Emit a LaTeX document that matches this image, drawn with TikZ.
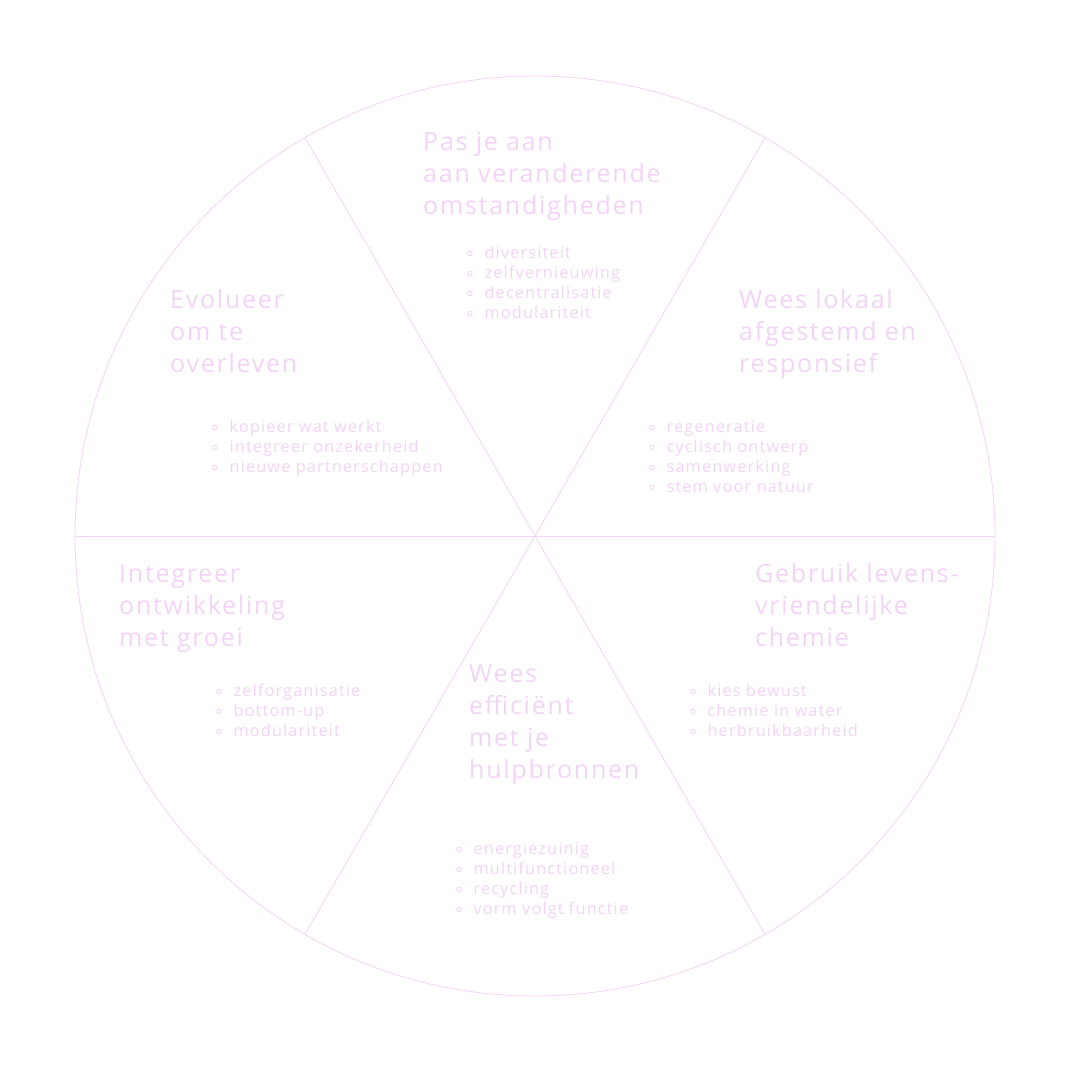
\documentclass[tikz,border=0pt]{standalone}
\usepackage{fontspec}
\setmainfont{Open Sans}[LetterSpace=7]
\definecolor{pk}{HTML}{F3D3F7}
\newcommand{\bl}{\tikz[baseline=0pt]\draw[pk,line width=0.8pt] (0,4.5pt) circle (2.3pt);\hspace{12pt}}
\begin{document}
\begin{tikzpicture}[x=1pt,y=-1pt,
  ttl/.style={anchor=base west,inner sep=0,align=left,text=pk,font=\fontsize{25}{32}\selectfont},
  lst/.style={anchor=base west,inner sep=0,align=left,text=pk,font=\fontsize{16.3}{20}\selectfont},
  ln/.style={draw=pk,line width=0.8pt}]
\useasboundingbox (0,0) rectangle (1070,1081);
\coordinate (c) at (535,536);
\draw[ln] (c) circle (460);
\foreach \a in {0,60,...,300}{\draw[ln] (c) -- ++(\a:460);}
\node[ttl] (t1) at (423,214) {Pas je aan\\aan veranderende\\omstandigheden};
\node[lst] (l1) at (467,318) {\bl diversiteit\\\bl zelfvernieuwing\\\bl decentralisatie\\\bl modulariteit};
\node[ttl] (t2) at (170,372) {Evolueer\\om te\\overleven};
\node[lst] (l2) at (212,472) {\bl kopieer wat werkt\\\bl integreer onzekerheid\\\bl nieuwe partnerschappen};
\node[ttl] (t3) at (739,372) {Wees lokaal\\afgestemd en\\responsief};
\node[lst] (l3) at (649,492) {\bl regeneratie\\\bl cyclisch ontwerp\\\bl samenwerking\\\bl stem voor natuur};
\node[ttl] (t4) at (119,646) {Integreer\\ontwikkeling\\met groei};
\node[lst] (l4) at (216,736) {\bl zelforganisatie\\\bl bottom-up\\\bl modulariteit};
\node[ttl] (t5) at (755,646) {Gebruik levens-\\vriendelijke\\chemie};
\node[lst] (l5) at (690,736) {\bl kies bewust\\\bl chemie in water\\\bl herbruikbaarheid};
\node[ttl] (t6) at (469,778) {Wees\\efficiënt\\met je\\hulpbronnen};
\node[lst] (l6) at (456,914) {\bl energiezuinig\\\bl multifunctioneel\\\bl recycling\\\bl vorm volgt functie};
\end{tikzpicture}
\end{document}
